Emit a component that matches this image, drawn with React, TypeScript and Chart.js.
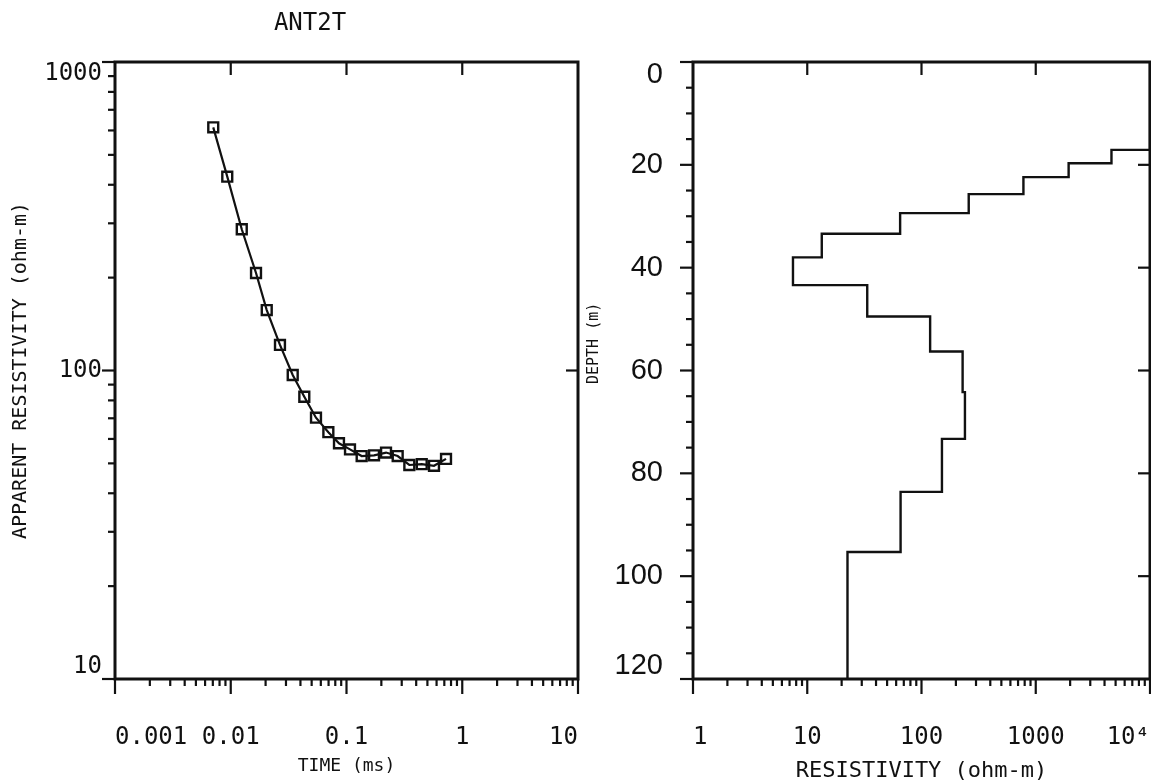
import React, { useEffect, useRef } from 'react';
import { Chart, registerables } from 'chart.js';

Chart.register(...registerables);

const FONT_MONO = '"DejaVu Sans Mono", "Liberation Mono", monospace';
const FONT_SANS = '"Liberation Sans", "DejaVu Sans", sans-serif';
const INK = '#111111';

// ---- Left panel: apparent resistivity sounding curve ----
const chartTitle = 'ANT2T';
const timeMs = [
  0.00706, 0.00933, 0.01245, 0.01653, 0.02046, 0.02662, 0.0343, 0.0432, 0.0545, 0.0697,
  0.0861, 0.1072, 0.1352, 0.1729, 0.2195, 0.2768, 0.349, 0.4467, 0.57, 0.724,
];
const apparentRes = [
  614, 425, 287, 207, 157, 121, 96.7, 82.2, 70.3, 63.1,
  58.1, 55.5, 52.8, 53.1, 54.2, 52.8, 49.4, 49.7, 49.1, 51.7,
];
const timeTickValues = [0.001, 0.01, 0.1, 1, 10];
const timeTickLabels = ['0.001', '0.01', '0.1', '1', '10'];
const rhoTickValues = [10, 100, 1000];
const rhoTickLabels = ['10', '100', '1000'];

// ---- Right panel: layered resistivity model ----
const layerRes = [10000, 4600, 1940, 780, 259, 65, 13.4, 7.5, 33.5, 119, 229, 240, 151, 65.6, 22.5];
const layerTop = [0, 17.1, 19.7, 22.4, 25.7, 29.4, 33.4, 38.0, 43.4, 49.5, 56.3, 64.2, 73.3, 83.6, 95.3];
const maxDepth = 120;
const resTickValues = [1, 10, 100, 1000, 10000];
const resTickLabels = ['1', '10', '100', '1000', '10⁴'];
const depthTickValues = [0, 20, 40, 60, 80, 100, 120];
const depthTickLabels = ['0', '20', '40', '60', '80', '100', '120'];
const depthMinorValues = [5, 10, 15, 25, 30, 35, 45, 50, 55, 65, 70, 75, 85, 90, 95, 105, 110, 115];

function logMinors(minExp: number, maxExp: number): number[] {
  const out: number[] = [];
  for (let e = minExp; e < maxExp; e++) {
    for (let k = 2; k <= 9; k++) out.push(k * Math.pow(10, e));
  }
  return out;
}

const frameTicks = {
  id: 'frameTicks',
  afterDraw(chart: any, _args: any, opts: any) {
    const { ctx, chartArea } = chart;
    const { left, right, top, bottom } = chartArea;
    const xs = chart.scales.x;
    const ys = chart.scales.y;
    ctx.save();
    ctx.strokeStyle = INK;
    ctx.lineCap = 'butt';
    ctx.lineWidth = opts.tickWidth || 2;
    const line = (x1: number, y1: number, x2: number, y2: number) => {
      ctx.beginPath();
      ctx.moveTo(x1, y1);
      ctx.lineTo(x2, y2);
      ctx.stroke();
    };
    (opts.bottom || []).forEach((s: any) =>
      s.values.forEach((v: number) => {
        const x = xs.getPixelForValue(v);
        line(x, bottom, x, s.out ? bottom + s.len : bottom - s.len);
      })
    );
    (opts.top || []).forEach((s: any) =>
      s.values.forEach((v: number) => {
        const x = xs.getPixelForValue(v);
        line(x, top, x, s.out ? top - s.len : top + s.len);
      })
    );
    (opts.left || []).forEach((s: any) =>
      s.values.forEach((v: number) => {
        const y = ys.getPixelForValue(v);
        line(s.out ? left - s.len : left + s.len, y, left, y);
      })
    );
    (opts.right || []).forEach((s: any) =>
      s.values.forEach((v: number) => {
        const y = ys.getPixelForValue(v);
        line(right, y, s.out ? right + s.len : right - s.len, y);
      })
    );
    ctx.lineWidth = opts.frameWidth || 2.5;
    ctx.strokeRect(left, top, right - left, bottom - top);
    ctx.restore();
  },
};

const fixXAxis = (h: number) => (s: any) => {
  s.height = h;
  s.paddingLeft = 0;
  s.paddingRight = 0;
};
const fixYAxis = (w: number) => (s: any) => {
  s.width = w;
  s.paddingTop = 0;
  s.paddingBottom = 0;
};

export default function App() {
  const leftRef = useRef<HTMLCanvasElement | null>(null);
  const rightRef = useRef<HTMLCanvasElement | null>(null);

  useEffect(() => {
    Chart.defaults.font.family = FONT_MONO;
    Chart.defaults.color = INK;

    const sounding = timeMs.map((t, i) => ({ x: t, y: apparentRes[i] }));

    const left = new Chart(leftRef.current as HTMLCanvasElement, {
      type: 'line',
      data: {
        datasets: [
          {
            data: sounding,
            borderColor: INK,
            borderWidth: 2.2,
            pointStyle: 'rect',
            pointRadius: 7,
            pointBorderWidth: 2.4,
            pointBorderColor: INK,
            pointBackgroundColor: 'rgba(0,0,0,0)',
            tension: 0,
          },
        ],
      },
      options: {
        animation: false,
        responsive: false,
        maintainAspectRatio: false,
        layout: { autoPadding: false, padding: { left: 42, right: 2, top: 0, bottom: 0 } },
        plugins: {
          legend: { display: false },
          tooltip: { enabled: false },
          title: {
            display: true,
            text: chartTitle,
            color: INK,
            font: { family: FONT_MONO, size: 24, weight: 'normal', lineHeight: 1.2 },
            padding: { top: 9, bottom: 24.2 },
          },
          frameTicks: {
            tickWidth: 2.2,
            frameWidth: 3,
            bottom: [
              { values: logMinors(-3, 1), len: 7, out: true },
              { values: timeTickValues, len: 15, out: true },
            ],
            top: [{ values: [0.01, 0.1, 1], len: 13, out: false }],
            left: [
              { values: logMinors(1, 3), len: 7, out: true },
              { values: rhoTickValues, len: 13, out: true },
            ],
            right: [{ values: [100], len: 12, out: false }],
          },
        } as any,
        scales: {
          x: {
            type: 'logarithmic',
            position: 'bottom',
            min: 0.001,
            max: 10,
            grid: { display: false, drawTicks: false, tickLength: 0 },
            border: { display: false },
            afterBuildTicks: (s: any) => {
              s.ticks = timeTickValues.map((v) => ({ value: v }));
            },
            afterFit: fixXAxis(105),
            ticks: {
              autoSkip: false,
              maxRotation: 0,
              minRotation: 0,
              align: 'inner',
              padding: 44,
              color: INK,
              font: { family: FONT_MONO, size: 24 },
              callback: (_v: any, i: number) => timeTickLabels[i],
            },
            title: {
              display: true,
              text: 'TIME (ms)',
              color: INK,
              font: { family: FONT_MONO, size: 18 },
              padding: { top: 0, bottom: 7 },
            },
          },
          y: {
            type: 'logarithmic',
            position: 'left',
            min: 10,
            max: 1000,
            grid: { display: false, drawTicks: false, tickLength: 0 },
            border: { display: false },
            afterBuildTicks: (s: any) => {
              s.ticks = rhoTickValues.map((v) => ({ value: v }));
            },
            afterFit: fixYAxis(73),
            ticks: {
              autoSkip: false,
              padding: 13,
              color: INK,
              font: { family: FONT_MONO, size: 24, lineHeight: 1 },
              callback: (_v: any, i: number) => {
                const lab = rhoTickLabels[i];
                if (i === rhoTickLabels.length - 1) return ['', lab];
                if (i === 0) return [lab, ''];
                return lab;
              },
            },
            title: {
              display: true,
              text: 'APPARENT RESISTIVITY (ohm-m)',
              color: INK,
              font: { family: FONT_MONO, size: 20, lineHeight: 1.2 },
              padding: { top: -33, bottom: 0 },
            },
          },
        },
      } as any,
      plugins: [frameTicks as any],
    });

    const profile: { x: number; y: number }[] = [];
    layerRes.forEach((r, i) => {
      const top = layerTop[i];
      const bot = i + 1 < layerTop.length ? layerTop[i + 1] : maxDepth;
      profile.push({ x: r, y: top }, { x: r, y: bot });
    });

    const right = new Chart(rightRef.current as HTMLCanvasElement, {
      type: 'line',
      data: {
        datasets: [
          {
            data: profile,
            borderColor: INK,
            borderWidth: 2.4,
            pointRadius: 0,
            tension: 0,
            fill: false,
          },
        ],
      },
      options: {
        animation: false,
        responsive: false,
        maintainAspectRatio: false,
        layout: { autoPadding: false, padding: { left: 0, right: 1, top: 62, bottom: 0 } },
        plugins: {
          legend: { display: false },
          tooltip: { enabled: false },
          title: { display: false },
          frameTicks: {
            tickWidth: 2.2,
            frameWidth: 3,
            bottom: [
              { values: logMinors(0, 4), len: 7, out: true },
              { values: resTickValues, len: 15, out: true },
            ],
            top: [{ values: [10, 100, 1000], len: 13, out: false }],
            left: [
              { values: depthMinorValues, len: 7, out: true },
              { values: depthTickValues, len: 13, out: true },
            ],
            right: [{ values: [20, 40, 60, 80, 100], len: 12, out: false }],
          },
        } as any,
        scales: {
          x: {
            type: 'logarithmic',
            position: 'bottom',
            min: 1,
            max: 10000,
            grid: { display: false, drawTicks: false, tickLength: 0 },
            border: { display: false },
            afterBuildTicks: (s: any) => {
              s.ticks = resTickValues.map((v) => ({ value: v }));
            },
            afterFit: fixXAxis(105),
            ticks: {
              autoSkip: false,
              maxRotation: 0,
              minRotation: 0,
              align: 'inner',
              padding: 44,
              color: INK,
              font: { family: FONT_MONO, size: 24 },
              callback: (_v: any, i: number) => resTickLabels[i],
            },
            title: {
              display: true,
              text: 'RESISTIVITY (ohm-m)',
              color: INK,
              font: { family: FONT_MONO, size: 22 },
              padding: { top: 0, bottom: 0 },
            },
          },
          y: {
            type: 'linear',
            position: 'left',
            min: 0,
            max: maxDepth,
            reverse: true,
            grid: { display: false, drawTicks: false, tickLength: 0 },
            border: { display: false },
            afterBuildTicks: (s: any) => {
              s.ticks = depthTickValues.map((v) => ({ value: v }));
            },
            afterFit: fixYAxis(113),
            ticks: {
              autoSkip: false,
              padding: 30,
              color: INK,
              font: { family: FONT_SANS, size: 29, lineHeight: '26px' },
              callback: (_v: any, i: number) => {
                const lab = depthTickLabels[i];
                if (i === 0) return ['', lab];
                if (i === depthTickLabels.length - 1) return [lab, ''];
                return lab;
              },
            },
            title: {
              display: true,
              text: '      DEPTH (m)',
              color: INK,
              font: { family: FONT_MONO, size: 15, lineHeight: 1.2 },
              padding: { top: 5, bottom: 0 },
            },
          },
        },
      } as any,
      plugins: [frameTicks as any],
    });

    return () => {
      left.destroy();
      right.destroy();
    };
  }, []);

  return (
    <div style={{ position: 'absolute', left: 0, top: 0, width: 1151, height: 784, background: '#ffffff', overflow: 'hidden' }}>
      <canvas ref={leftRef} width={580} height={784} style={{ position: 'absolute', left: 0, top: 0 }} />
      <canvas ref={rightRef} width={571} height={784} style={{ position: 'absolute', left: 580, top: 0 }} />
    </div>
  );
}
